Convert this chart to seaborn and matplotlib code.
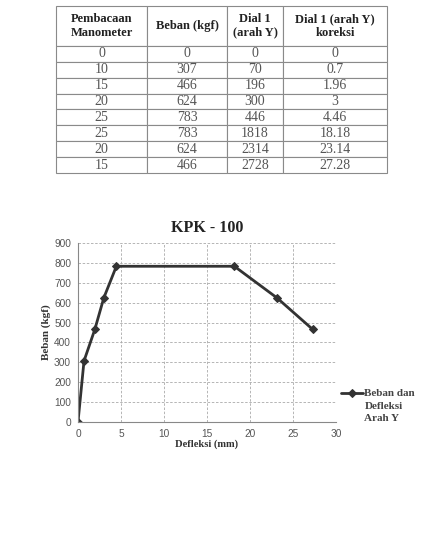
import matplotlib
matplotlib.use("Agg")
import matplotlib.pyplot as plt
import seaborn as sns
import pandas as pd

# table data
header = ["Pembacaan\nManometer", "Beban (kgf)", "Dial 1\n(arah Y)", "Dial 1 (arah Y)\nkoreksi"]
manometer = ["0", "10", "15", "20", "25", "25", "20", "15"]
beban = [0, 307, 466, 624, 783, 783, 624, 466]
dial = ["0", "70", "196", "300", "446", "1818", "2314", "2728"]
koreksi = [0, 0.7, 1.96, 3, 4.46, 18.18, 23.14, 27.28]
koreksi_txt = ["0", "0.7", "1.96", "3", "4.46", "18.18", "23.14", "27.28"]

sns.set_style("white")
plt.rcParams['font.family'] = ['Liberation Serif', 'DejaVu Serif']

fig = plt.figure(figsize=(4.24, 5.36), dpi=100)

# ---- table ----
tax = fig.add_axes([56/424, 1-173/536, 331/424, 167/536])
tax.axis("off")
rows = [[manometer[i], str(beban[i]), dial[i], koreksi_txt[i]] for i in range(len(beban))]
tbl = tax.table(cellText=rows, colLabels=header, cellLoc="center", bbox=[0, 0, 1, 1])
tbl.auto_set_font_size(False)
col_w = [91, 80, 56, 104]
for (r, c), cell in tbl.get_celld().items():
    cell.set_width(col_w[c])
    cell.set_height(40 if r == 0 else 15.9)
    cell.set_edgecolor("#8a8a8a")
    cell.set_linewidth(0.8)
    if r == 0:
        cell.get_text().set_fontsize(9)
        cell.get_text().set_fontweight("bold")
        cell.get_text().set_color("#222222")
        cell.get_text().set_linespacing(1.15)
    else:
        cell.get_text().set_fontsize(10)
        cell.get_text().set_color("#555555")

# ---- chart ----
df = pd.DataFrame({"Defleksi": koreksi, "Beban": beban})
ax = fig.add_axes([78/424, 1-422/536, 258/424, 179/536])
sns.lineplot(data=df, x="Defleksi", y="Beban", ax=ax, sort=False, color="#333333",
             linewidth=2, marker="D", markersize=4.5, markeredgecolor="#333333",
             label="Beban dan\nDefleksi\nArah Y")
ax.set_xlim(0, 30)
ax.set_ylim(0, 900)
ax.set_xticks(range(0, 31, 5))
ax.set_yticks(range(0, 901, 100))
ax.grid(True, linestyle=(0, (3, 2)), color="#aaaaaa", linewidth=0.6)
for s in ["top", "right"]:
    ax.spines[s].set_visible(False)
for s in ["left", "bottom"]:
    ax.spines[s].set_color("#888888")
    ax.spines[s].set_linewidth(0.8)
ax.tick_params(axis="both", length=3, width=0.6, color="#888888", labelsize=7.3,
               labelcolor="#555555", direction="out", pad=2)
for lab in ax.get_xticklabels() + ax.get_yticklabels():
    lab.set_fontfamily("Liberation Sans")
ax.set_xlabel("Defleksi (mm)", fontsize=7.6, fontweight="bold", color="#333333", labelpad=0)
ax.set_ylabel("Beban (kgf)", fontsize=8, fontweight="bold", color="#333333", labelpad=2)
ax.set_title("KPK - 100", fontsize=11.5, fontweight="bold", color="#222222", pad=8)
leg = ax.legend(loc="upper left", bbox_to_anchor=(1.02, 0.183), frameon=False,
                fontsize=8, handlelength=2.0, handletextpad=0.1, borderaxespad=0,
                borderpad=0)
for t in leg.get_texts():
    t.set_fontweight("bold")
    t.set_color("#444444")
    t.set_linespacing(1.5)
for col in leg._legend_handle_box.get_children():
    for item in col.get_children():
        item.align = "top"

fig.savefig("out.png", dpi=100)
